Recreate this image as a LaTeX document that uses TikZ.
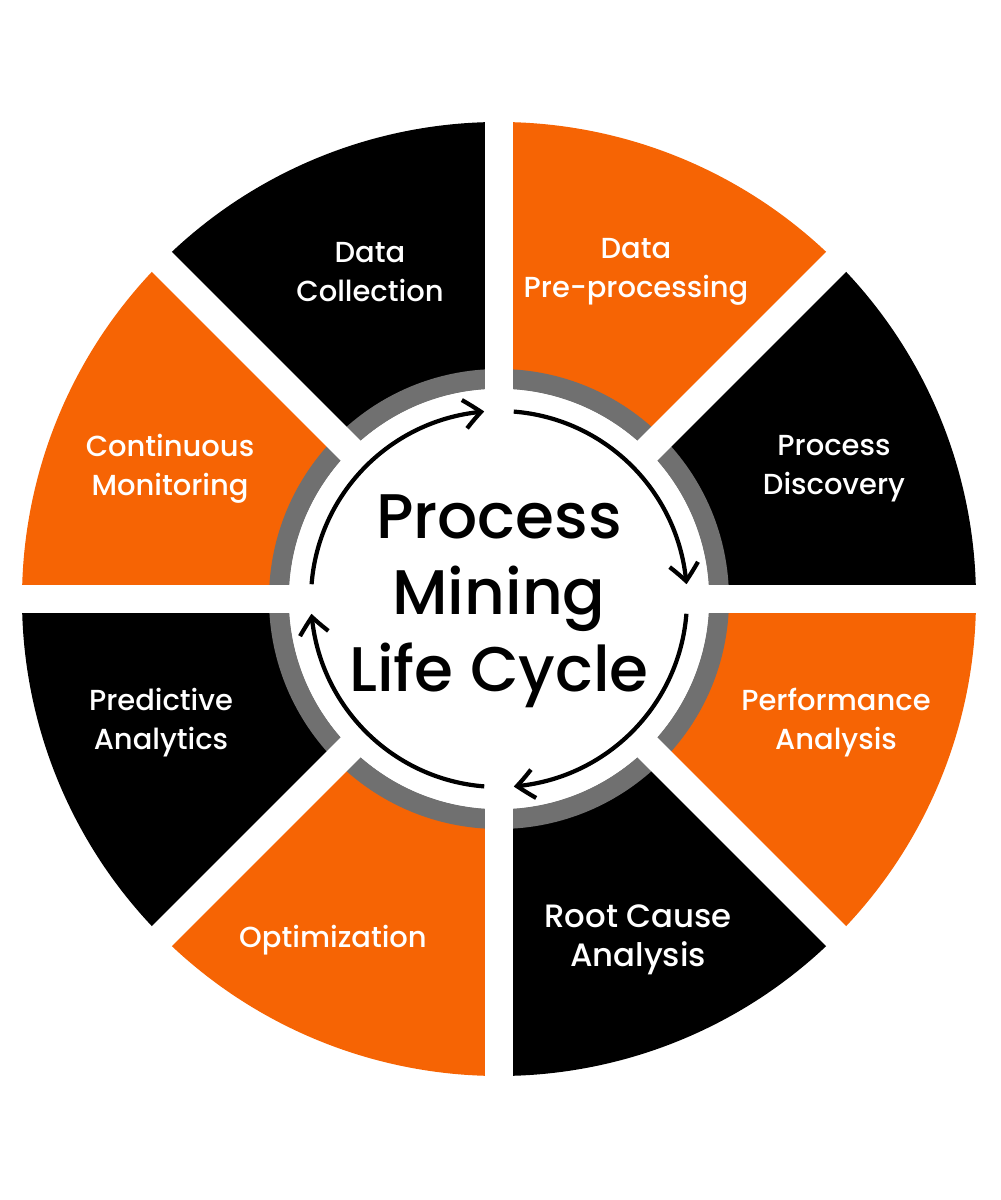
\documentclass[tikz,border=0pt]{standalone}
\usepackage{fontspec}
\setmainfont{Poppins Medium}
\usetikzlibrary{arrows.meta,bending}
\definecolor{pmorange}{RGB}{246,100,4}
\definecolor{pmgray}{RGB}{112,112,112}
\begin{document}
\begin{tikzpicture}[x=0.025cm,y=0.025cm,
  seglabel/.style={text=white,align=center,font=\fontsize{20.6pt}{27.7pt}\selectfont},
  cyclearrow/.style={line width=3pt,-{Straight Barb[length=0.42cm,width=0.72cm,bend]}},
  gapline/.style={white,line width=0.7cm}]
\useasboundingbox[fill=white] (-499,-601) rectangle (501,599);
% sectors
\foreach \a/\c in {0/black,45/pmorange,90/black,135/pmorange,180/black,225/pmorange,270/black,315/pmorange}{
  \fill[\c] (0,0) -- (\a:477) arc[start angle=\a,end angle=\a+45,radius=477] -- cycle;
}
\fill[pmgray] (0,0) circle[radius=230];
\fill[white] (0,0) circle[radius=210];
% gaps
\coordinate (gN) at (90:500); \coordinate (gS) at (270:500);
\coordinate (gE) at (0:500); \coordinate (gW) at (180:500);
\coordinate (gNE) at (45:500); \coordinate (gSW) at (225:500);
\coordinate (gNW) at (135:500); \coordinate (gSE) at (315:500);
\draw[gapline] (gN) -- (gS);
\draw[gapline] (gE) -- (gW);
\draw[gapline] (gNE) -- (gSW);
\draw[gapline] (gNW) -- (gSE);
\fill[white] (0,0) circle[radius=210];
% cycle arrows
\foreach \b in {90,0,-90,-180}{
  \draw[cyclearrow] (\b+85.5:188) arc[start angle=\b+85.5,end angle=\b+4.5,radius=188];
}
% center title
\node[align=center,font=\fontsize{44.8pt}{54.4pt}\selectfont] (title) at (0,-2) {Process\\Mining\\Life Cycle};
% labels
\node[seglabel] (dc) at (-129,327) {Data\\Collection};
\node[seglabel] (dp) at (137,327.5) {Data\\Pre-processing};
\node[seglabel] (pd) at (335,130.5) {Process\\Discovery};
\node[seglabel] (pa) at (337,-123.5) {Performance\\Analysis};
\node[seglabel,font=\fontsize{23pt}{27.7pt}\selectfont] (rc) at (139,-341) {Root Cause\\Analysis};
\node[seglabel] (op) at (-166,-341) {Optimization};
\node[seglabel] (pr) at (-338,-123.5) {Predictive\\Analytics};
\node[seglabel] (cm) at (-329,130.5) {Continuous\\Monitoring};
\end{tikzpicture}
\end{document}
